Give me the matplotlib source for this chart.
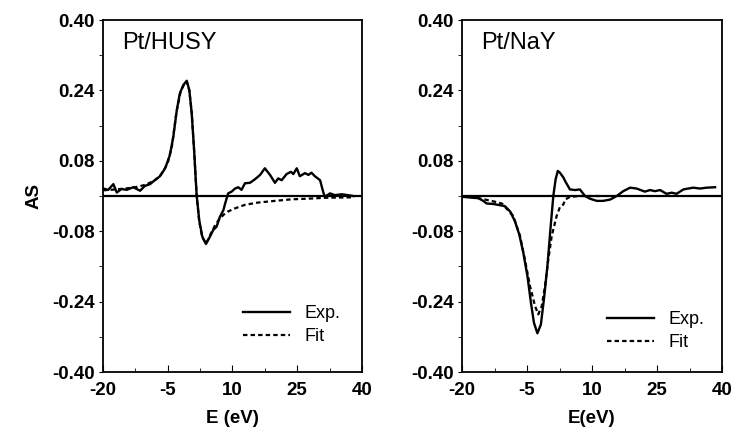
import matplotlib.pyplot as plt

plt.rcParams['font.family'] = ['Liberation Sans', 'DejaVu Sans']

# ---------------- data ----------------
# Pt/HUSY, experiment
e_husy_exp = [-19.9, -18.8, -17.6, -16.8, -15.7, -14.5, -13.0, -11.4, -10.3, -9.1,
              -8.0, -6.8, -5.6, -4.5, -3.7, -2.9, -2.2, -1.4, -0.6, 0.0,
              0.55, 1.15, 1.7, 2.3, 3.0, 3.86, 4.8, 5.55, 6.3, 7.1,
              7.9, 8.3, 9.0, 9.8, 10.6, 11.35, 12.1, 12.9, 14.05, 15.2,
              16.4, 17.5, 18.7, 19.85, 20.6, 21.4, 22.55, 23.55, 24.1, 24.9,
              25.6, 26.8, 27.6, 28.3, 29.1, 30.3, 31.0, 31.4, 32.6, 33.7,
              35.3, 36.8, 38.0]
as_husy_exp = [0.017, 0.014, 0.027, 0.008, 0.016, 0.014, 0.020, 0.012, 0.023, 0.027,
               0.036, 0.045, 0.063, 0.093, 0.135, 0.195, 0.233, 0.252, 0.262, 0.241,
               0.189, 0.098, 0.002, -0.055, -0.092, -0.109, -0.092, -0.077, -0.070, -0.047,
               -0.032, -0.017, 0.006, 0.010, 0.017, 0.020, 0.014, 0.029, 0.030, 0.038,
               0.048, 0.063, 0.048, 0.030, 0.040, 0.036, 0.050, 0.055, 0.050, 0.063,
               0.045, 0.052, 0.048, 0.053, 0.045, 0.036, 0.010, -0.002, 0.006, 0.002,
               0.004, 0.002, 0.000]

# Pt/HUSY, fit
e_husy_fit = [-20.0, -17.0, -14.0, -12.0, -10.0, -8.0, -7.0, -6.0, -5.0, -4.0,
              -3.0, -2.0, -1.0, -0.6, 0.0, 0.55, 1.15, 1.7, 2.3, 3.0,
              3.9, 5.0, 6.0, 7.0, 8.0, 9.0, 10.6, 12.9, 15.8, 19.85,
              23.7, 27.6, 31.4, 37.6]
as_husy_fit = [0.013, 0.015, 0.018, 0.021, 0.026, 0.036, 0.043, 0.057, 0.075, 0.115,
               0.190, 0.238, 0.258, 0.260, 0.240, 0.190, 0.098, 0.000, -0.058, -0.094,
               -0.108, -0.085, -0.066, -0.052, -0.042, -0.035, -0.028, -0.020, -0.015, -0.011,
               -0.0075, -0.006, -0.004, -0.003]

# Pt/NaY, experiment
e_nay_exp = [-19.7, -16.2, -15.1, -14.3, -12.8, -11.2, -10.1, -8.9, -7.8, -6.8,
             -5.85, -4.9, -4.1, -3.4, -2.6, -1.8, -1.1, -0.3, 0.47, 1.07,
             1.6, 2.1, 2.6, 3.4, 3.8, 4.9, 6.1, 7.2, 8.4, 9.5,
             11.1, 12.6, 14.2, 15.7, 17.2, 18.8, 20.3, 22.2, 23.4, 24.5,
             25.7, 27.2, 28.4, 29.5, 31.1, 32.2, 33.4, 34.9, 36.5, 38.4]
as_nay_exp = [-0.002, -0.005, -0.011, -0.017, -0.018, -0.021, -0.023, -0.035, -0.057, -0.087,
              -0.129, -0.182, -0.242, -0.288, -0.312, -0.292, -0.235, -0.160, -0.068, 0.000,
              0.038, 0.057, 0.053, 0.042, 0.034, 0.015, 0.0136, 0.015, 0.000, -0.006,
              -0.011, -0.011, -0.008, 0.000, 0.011, 0.019, 0.017, 0.010, 0.0136, 0.011,
              0.0136, 0.005, 0.0076, 0.005, 0.015, 0.017, 0.019, 0.017, 0.019, 0.020]

# Pt/NaY, fit
e_nay_fit = [-20.0, -16.5, -14.7, -12.8, -10.8, -8.2, -6.6, -5.5, -4.3, -3.15,
             -2.4, -1.6, -0.85, -0.08, 0.7, 1.85, 2.6, 3.4, 3.8, 4.9, 7.0, 12.0]
as_nay_fit = [0.000, -0.004, -0.008, -0.012, -0.017, -0.045, -0.091, -0.144, -0.205, -0.250,
              -0.269, -0.250, -0.205, -0.144, -0.091, -0.045, -0.025, -0.019, -0.008, -0.002, 0.0, 0.0]

x_ticks = [-20, -5, 10, 25, 40]
x_minor = [-12.5, 2.5, 17.5, 32.5]
y_ticks = [-0.40, -0.24, -0.08, 0.08, 0.24, 0.40]
y_ticklabels = ['-0.40', '-0.24', '-0.08', '0.08', '0.24', '0.40']
y_minor = [-0.32, -0.16, 0.0, 0.16, 0.32]

panels = [
    ('Pt/HUSY', 'E (eV)', e_husy_exp, as_husy_exp, e_husy_fit, as_husy_fit, (0.54, 0.1335)),
    ('Pt/NaY', 'E(eV)', e_nay_exp, as_nay_exp, e_nay_fit, as_nay_fit, (0.558, 0.1165)),
]

fig = plt.figure(figsize=(7.33, 4.28), dpi=100)
ax_pos = [[0.1405, 0.1308, 0.3533, 0.8224], [0.6303, 0.1308, 0.3547, 0.8224]]

for i, (name, xlab, ex, ey, fx, fy, leg_at) in enumerate(panels):
    ax = fig.add_axes(ax_pos[i])
    ax.axhline(0, color='black', lw=1.6, zorder=1)
    ax.plot(fx, fy, color='black', lw=1.6, linestyle=(0, (2, 1.4)), label='Fit', zorder=2)
    ax.plot(ex, ey, color='black', lw=1.7, label='Exp.', zorder=3)

    ax.set_xlim(-20, 40)
    ax.set_ylim(-0.40, 0.40)
    ax.set_xticks(x_ticks)
    ax.set_xticklabels([str(t) for t in x_ticks])
    ax.set_xticks(x_minor, minor=True)
    ax.set_yticks(y_ticks)
    ax.set_yticklabels(y_ticklabels)
    ax.set_yticks(y_minor, minor=True)
    ax.tick_params(axis='x', which='both', direction='in', pad=7, labelsize=13.5)
    ax.tick_params(axis='x', which='major', length=5)
    ax.tick_params(axis='x', which='minor', length=3)
    ax.tick_params(axis='y', which='both', direction='out', length=3, pad=3, labelsize=13.5)
    for lab in ax.get_xticklabels() + ax.get_yticklabels():
        lab.set_fontweight('bold')
    for sp in ax.spines.values():
        sp.set_linewidth(1.3)

    ax.text(0.073, 0.935, name, transform=ax.transAxes, fontsize=17, va='center', ha='left')

    ax.set_xlabel(xlab, fontsize=13.5, fontweight='bold')
    ax.xaxis.set_label_coords(0.5, -0.108)
    if i == 0:
        ax.set_ylabel('AS', fontsize=13.5, fontweight='bold')
        ax.yaxis.set_label_coords(-0.235, 0.5)

    h, l = ax.get_legend_handles_labels()
    ax.legend(h[::-1], l[::-1], loc='center left', bbox_to_anchor=leg_at, frameon=False,
              fontsize=13, handlelength=2.6, handletextpad=0.8, labelspacing=0.35,
              borderpad=0, borderaxespad=0)

fig.savefig('out.png', dpi=100)
